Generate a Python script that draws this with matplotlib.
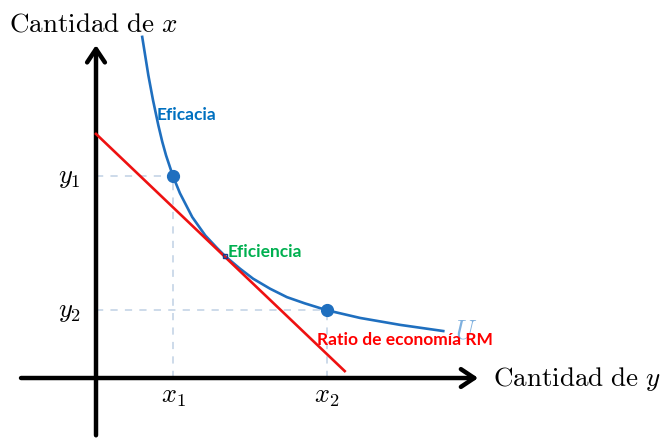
import matplotlib.pyplot as plt
from matplotlib.patches import FancyArrowPatch

plt.rcParams['mathtext.fontset'] = 'cm'

# indifference curve U
curve_x = [0.60, 0.68, 0.74, 0.81, 0.86, 0.91, 1.00, 1.09, 1.25, 1.42, 1.57,
           1.68, 1.87, 2.04, 2.26, 2.48, 2.71, 3.00, 3.43, 3.95, 4.51]
curve_y = [4.43, 3.93, 3.61, 3.28, 3.07, 2.89, 2.62, 2.40, 2.09, 1.85, 1.69,
           1.58, 1.42, 1.29, 1.16, 1.05, 0.97, 0.88, 0.78, 0.69, 0.61]

# budget / economy ratio line
line_x = [0.0, 3.23]
line_y = [3.17, 0.09]

# the two marked points and the tangency point
pts_x = [1.00, 3.00]
pts_y = [2.62, 0.88]
tick_x_labels = [r'$x_1$', r'$x_2$']
tick_y_labels = [r'$y_1$', r'$y_2$']
tangent = (1.68, 1.58)

BLUE = '#1f6fbf'
GUIDE = '#c9d8e8'

fig = plt.figure(figsize=(6.7, 4.39), dpi=100)
ax = fig.add_axes([0, 0, 1, 1])
ax.set_xlim(-1.2468, 7.4545)
ax.set_ylim(-0.779, 4.922)
ax.axis('off')

# dashed guides
for px, py in zip(pts_x, pts_y):
    ax.plot([0, px], [py, py], ls=(0, (4, 4)), color=GUIDE, lw=1.3, zorder=1)
    ax.plot([px, px], [0, py], ls=(0, (4, 4)), color=GUIDE, lw=1.3, zorder=1)

# axes with arrows
ax.add_patch(FancyArrowPatch((0, -0.78), (0, 4.36), arrowstyle='->,head_length=6,head_width=4',
                             lw=3.2, color='black', mutation_scale=1.6, zorder=3))
ax.add_patch(FancyArrowPatch((-1.01, 0), (5.0, 0), arrowstyle='->,head_length=6,head_width=4',
                             lw=3.2, color='black', mutation_scale=1.6, zorder=3))

ax.plot(curve_x, curve_y, color=BLUE, lw=1.9, zorder=4)
ax.plot(line_x, line_y, color='#ee1111', lw=1.9, zorder=4)
ax.plot(pts_x, pts_y, 'o', color=BLUE, ms=8.5, zorder=5)
ax.plot(*tangent, 's', ms=3, mfc='none', mec='#1a3a8a', mew=1.0, zorder=6)

for px, lab in zip(pts_x, tick_x_labels):
    ax.text(px, -0.22, lab, ha='center', va='center', fontsize=19)
for py, lab in zip(pts_y, tick_y_labels):
    ax.text(-0.34, py, lab, ha='center', va='center', fontsize=19)

ax.text(-1.13, 4.60, r'$\mathrm{Cantidad\ de}\ x$', ha='left', va='center', fontsize=19.5)
ax.text(5.15, 0.0, r'$\mathrm{Cantidad\ de}\ y$', ha='left', va='center', fontsize=19.5)

ax.text(4.66, 0.62, r'$U$', color='#7fb0de', fontsize=19, ha='left', va='center', zorder=2)

ax.text(0.79, 3.43, 'Eficacia', color='#0070c0', fontsize=12.5, fontweight='bold',
        family='Lato', ha='left', va='center')
ax.text(1.71, 1.65, 'Eficiencia', color='#00b050', fontsize=12.5, fontweight='bold',
        family='Lato', ha='left', va='center')
ax.text(2.87, 0.51, 'Ratio de economía RM', color='#ff0000', fontsize=12.5, fontweight='bold',
        family='Lato', ha='left', va='center', zorder=7)

fig.savefig('out.png', dpi=100)
